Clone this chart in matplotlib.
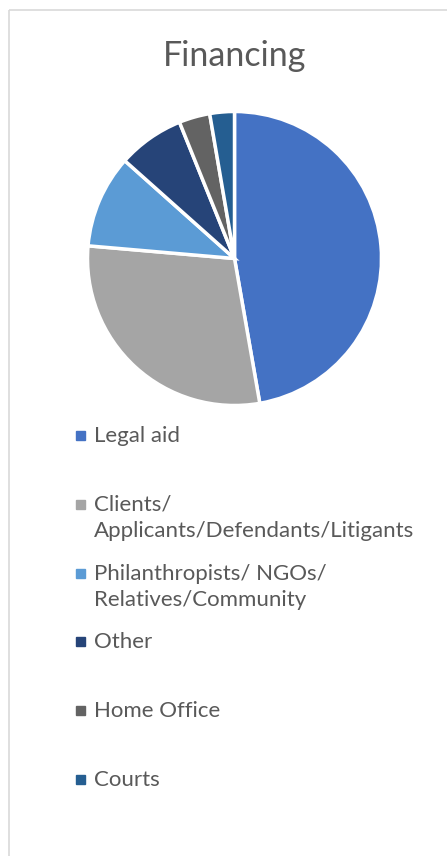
import matplotlib.pyplot as plt
from matplotlib.patches import Rectangle

# Chart data
labels = [
    'Legal aid',
    'Clients/\nApplicants/Defendants/Litigants',
    'Philanthropists/ NGOs/\nRelatives/Community',
    'Other',
    'Home Office',
    'Courts',
]
values = [47.2, 29.1, 10.2, 7.3, 3.4, 2.7]
colors = ['#4472C4', '#A5A5A5', '#5B9BD5', '#264478', '#636363', '#255E91']
title = 'Financing'

W, H = 447, 856
fig = plt.figure(figsize=(W / 100, H / 100), dpi=100)
plt.rcParams['font.family'] = ['Lato', 'DejaVu Sans']
text_color = '#595959'

# Chart border
fig.patches.append(Rectangle((9 / W, 1 - 10 / H), 1, -1, transform=fig.transFigure,
                             fill=False, edgecolor='#D9D9D9', linewidth=1.2))

# Pie axes
cx, cy, r = 234.5, 258.5, 147
ax = fig.add_axes([(cx - r) / W, 1 - (cy + r) / H, 2 * r / W, 2 * r / H])
ax.pie(values, colors=colors, startangle=90, counterclock=False,
       wedgeprops=dict(edgecolor='white', linewidth=2.5))
ax.set_xlim(-1, 1)
ax.set_ylim(-1, 1)

fig.text(cx / W, 1 - 66 / H, title, ha='center', va='baseline', fontsize=24.5, color=text_color)

# Legend entries (one text per line, baselines in pixels)
y0, step, line_h = 442, 68.8, 26.5
for i, (lab, col) in enumerate(zip(labels, colors)):
    y = y0 + i * step
    fig.patches.append(Rectangle((76 / W, 1 - (y - 2) / H), 9 / W, 9 / H,
                                 transform=fig.transFigure, color=col))
    for k, line in enumerate(lab.split('\n')):
        fig.text(94 / W, 1 - (y + k * line_h) / H, line, ha='left', va='baseline',
                 fontsize=16, color=text_color)

fig.savefig('out.png', dpi=100)
